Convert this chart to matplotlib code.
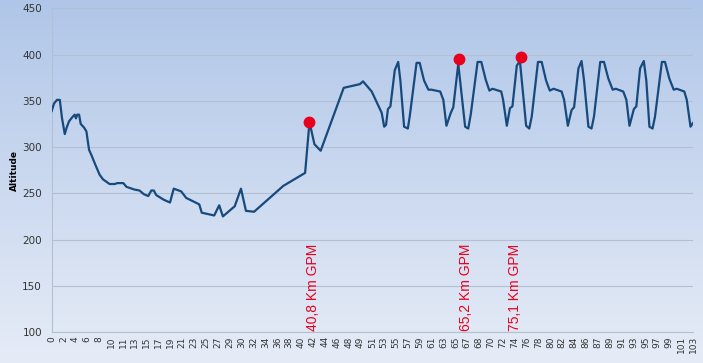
import numpy as np
import matplotlib
matplotlib.use("Agg")
import matplotlib.pyplot as plt
from matplotlib.colors import LinearSegmentedColormap

# profile (km, altitude m)
km = [0.0, 0.37, 0.85, 1.3, 1.66, 2.1, 2.4, 2.8, 3.4, 3.7, 3.9, 4.1, 4.4, 4.66,
      5.2, 5.57, 6.0, 6.4, 7.0, 7.7, 8.25, 9.3, 10.1, 10.56, 11.5, 12.0, 13.3,
      14.1, 14.8, 15.5, 16.0, 16.4, 16.8, 18.0, 19.0, 19.6, 20.8, 21.6, 23.7,
      24.1, 26.1, 26.9, 27.5, 29.4, 30.4, 31.2, 32.5, 37.2, 40.7, 41.4, 42.2,
      43.2, 46.9, 49.5, 50.0, 51.4, 53.0, 53.4, 53.7, 54.0, 54.4, 55.1, 55.65,
      56.0, 56.6, 57.2, 57.5, 58.6, 59.1, 59.8, 60.5, 61.0, 62.4, 62.9, 63.4,
      64.1, 64.5, 65.3, 66.4, 66.9, 67.3, 68.4, 69.0, 69.7, 70.3, 70.8, 72.2,
      72.5, 73.1, 73.6, 74.0, 74.7, 75.2, 76.2, 76.7, 77.1, 78.1, 78.7, 79.4,
      80.0, 80.6, 81.9, 82.3, 82.9, 83.5, 83.9, 84.6, 85.1, 85.5, 86.2, 86.7,
      87.1, 88.1, 88.7, 89.4, 90.1, 90.6, 91.8, 92.3, 92.8, 93.5, 93.9, 94.5,
      95.1, 95.5, 96.0, 96.5, 96.9, 98.0, 98.5, 99.2, 99.9, 100.4, 101.6,
      102.0, 102.6, 103.0]
alt = [339, 347, 351, 351, 331, 314, 321, 328, 333, 335, 331, 335, 335, 325,
       321, 317, 297, 291, 281, 270, 265, 260, 260, 261, 261, 257, 254,
       253, 249, 247, 253, 253, 248, 243, 240, 255, 252, 245, 238,
       229, 226, 237, 225, 236, 255, 231, 230, 258, 272, 327, 303,
       296, 364, 368, 371, 360, 337, 322, 324, 341, 344, 383, 392,
       372, 322, 320, 333, 391, 391, 372, 362, 362, 360, 351, 323,
       337, 343, 390, 322, 320, 335, 392, 392, 373, 361, 363, 360,
       351, 323, 342, 344, 388, 393, 323, 320, 333, 392, 392, 372,
       361, 363, 360, 351, 323, 340, 343, 385, 393, 372, 322, 320,
       333, 392, 392, 374, 362, 363, 360, 351, 323, 341, 344, 385,
       393, 372, 322, 320, 333, 392, 392, 374, 362, 363, 360,
       351, 322, 326]

gpm_km = [41.4, 65.4, 75.4]
gpm_alt = [327, 395, 397]
gpm_labels = ["40,8 Km GPM", "65,2 Km GPM", "75,1 Km GPM"]
gpm_text_km = [41.9, 66.5, 74.4]

xtick_labels = ["0", "2", "4", "6", "8", "10", "11", "13", "15", "17", "19", "21",
                "23", "25", "27", "29", "30", "32", "34", "36", "38", "40", "42",
                "44", "46", "48", "49", "51", "53", "55", "57", "59", "61", "63",
                "65", "67", "68", "70", "72", "74", "76", "78", "80", "82", "84",
                "86", "87", "89", "91", "93", "95", "97", "99", "101", "103"]

fig = plt.figure(figsize=(7.03, 3.63), dpi=100)

# gradient background over whole figure
bg = fig.add_axes([0, 0, 1, 1], zorder=-10)
cmap = LinearSegmentedColormap.from_list("bg", ["#b0c6e8", "#e6ecf7"])
bg.imshow(np.linspace(0, 1, 256).reshape(-1, 1), aspect="auto", cmap=cmap,
          extent=[0, 1, 0, 1])
bg.axis("off")

ax = fig.add_axes([51.7 / 703, 31 / 363, (693 - 51.7) / 703, (332 - 8.3) / 363])
ax.patch.set_alpha(0)

ax.plot(km, alt, color="#174a7c", lw=1.6, solid_joinstyle="round", zorder=3)
ax.plot(gpm_km, gpm_alt, "o", color="#e8001c", ms=7.5, zorder=4)

for x, lab in zip(gpm_text_km, gpm_labels):
    ax.text(x, 101, lab, rotation=90, color="#e8001c", fontsize=10,
            family="Liberation Sans", ha="center", va="bottom", zorder=5)

ax.set_xlim(0, 103)
ax.set_ylim(100, 450)
ax.set_yticks(np.arange(100, 451, 50))
ax.set_xticks(np.linspace(0, 103, len(xtick_labels)))
ax.set_xticklabels(xtick_labels, rotation=90, fontsize=6.5, color="#333333")
ax.tick_params(axis="y", labelsize=7.5, colors="#333333", length=0, pad=7)
ax.tick_params(axis="x", length=0, pad=3)

ax.grid(axis="y", color="#b3c0d2", lw=0.8)
ax.set_axisbelow(True)
for s in ["top", "right"]:
    ax.spines[s].set_visible(False)
ax.spines["left"].set_color("#b3c0d2")
ax.spines["bottom"].set_color("#b3c0d2")

ax.set_ylabel("Altitude", fontsize=6.5, fontweight="bold", labelpad=2)

fig.savefig("out.png", dpi=100)
